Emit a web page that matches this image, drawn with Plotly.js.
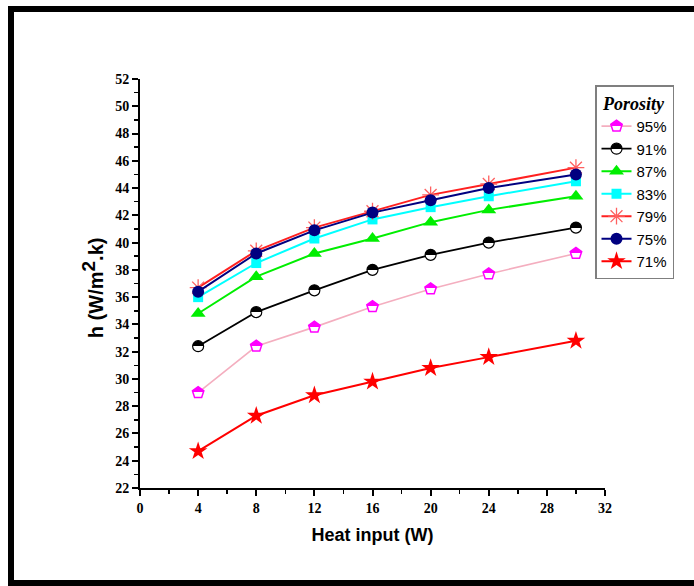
<!DOCTYPE html>
<html>
<head>
<meta charset="utf-8">
<script src="https://cdn.plot.ly/plotly-3.0.1.min.js"></script>
<style>
  html, body { margin: 0; padding: 0; background: #ffffff; overflow: hidden; }
  #frame {
    position: absolute; left: 8px; top: 6px;
    width: 700px; height: 568px;
    border: 6px solid #000000; box-sizing: content-box;
  }
  #chart { position: absolute; left: 0; top: 0; width: 694px; height: 586px; }
</style>
</head>
<body>
<div id="frame"></div>
<div id="chart"></div>
<script>
// Heat transfer coefficient vs. heat input for several wick porosities
var heatInput = [4, 8, 12, 16, 20, 24, 30];

var porosityLabels = ['95%', '91%', '87%', '83%', '79%', '75%', '71%'];

var h95 = [29.0, 32.4, 33.8, 35.3, 36.6, 37.7, 39.2];
var h91 = [32.4, 34.9, 36.5, 38.0, 39.1, 40.0, 41.1];
var h87 = [34.8, 37.5, 39.2, 40.3, 41.5, 42.4, 43.4];
var h83 = [36.0, 38.5, 40.3, 41.7, 42.6, 43.4, 44.5];
var h79 = [36.7, 39.4, 41.1, 42.3, 43.5, 44.3, 45.5];
var h75 = [36.4, 39.2, 40.9, 42.2, 43.1, 44.0, 45.0];
var h71 = [24.7, 27.3, 28.8, 29.8, 30.8, 31.6, 32.8];

var xTickVals = [0, 4, 8, 12, 16, 20, 24, 28, 32];
var yTickVals = [22, 24, 26, 28, 30, 32, 34, 36, 38, 40, 42, 44, 46, 48, 50, 52];

function series(name, y, lineStyle, marker) {
  return {
    type: 'scatter', mode: 'lines+markers',
    name: name, x: heatInput, y: y,
    line: lineStyle, marker: marker,
    cliponaxis: false
  };
}

var data = [
  series(porosityLabels[0], h95, {color: '#f4aebf', width: 1.6},
    {symbol: 'pentagon', size: 12, color: '#ff00ff',
     gradient: {type: 'vertical', color: '#ffffff'},
     line: {color: '#ff00ff', width: 1.5}}),
  series(porosityLabels[1], h91, {color: '#000000', width: 1.8},
    {symbol: 'circle', size: 11, color: '#000000',
     gradient: {type: 'vertical', color: '#ffffff'},
     line: {color: '#000000', width: 1.2}}),
  series(porosityLabels[2], h87, {color: '#00ee00', width: 2},
    {symbol: 'triangle-up', size: 13, color: '#00ee00', line: {width: 0}}),
  series(porosityLabels[3], h83, {color: '#00ffff', width: 2},
    {symbol: 'square', size: 10, color: '#00ffff', line: {width: 0}}),
  series(porosityLabels[4], h79, {color: '#ff2020', width: 2},
    {symbol: 'asterisk-open', size: 14, color: '#ff6060',
     line: {color: '#ff6060', width: 1.3}}),
  series(porosityLabels[5], h75, {color: '#000080', width: 2},
    {symbol: 'circle', size: 12, color: '#000080', line: {width: 0}}),
  series(porosityLabels[6], h71, {color: '#ff0000', width: 2},
    {symbol: 'star', size: 14, color: '#ff0000', line: {width: 0}})
];

var tickFont = {family: 'Liberation Serif, Times New Roman, serif', size: 14, color: '#000000', weight: 700};
var xTitleFont = {family: 'Liberation Sans, Arial, sans-serif', size: 18, color: '#000000', weight: 700};
var yTitleFont = {family: 'Liberation Sans, Arial, sans-serif', size: 20, color: '#000000', weight: 700};

var layout = {
  width: 694, height: 586,
  margin: {l: 139.5, r: 89, t: 79, b: 98, pad: 0},
  paper_bgcolor: 'rgba(0,0,0,0)',
  plot_bgcolor: 'rgba(0,0,0,0)',
  showlegend: true,
  xaxis: {
    range: [0, 32], tickmode: 'array', tickvals: xTickVals,
    showgrid: false, zeroline: false,
    showline: true, linecolor: '#000000', linewidth: 2,
    ticks: 'outside', ticklen: 6, tickwidth: 2, tickcolor: '#000000',
    minor: {dtick: 2, ticks: 'outside', ticklen: 4, tickwidth: 1.5, tickcolor: '#000000', showgrid: false},
    tickfont: tickFont,
    title: {text: 'Heat input (W)', font: xTitleFont, standoff: 14}
  },
  yaxis: {
    range: [22, 52], tickmode: 'array', tickvals: yTickVals,
    showgrid: false, zeroline: false,
    showline: true, linecolor: '#000000', linewidth: 2,
    ticks: 'outside', ticklen: 6, tickwidth: 2, tickcolor: '#000000',
    minor: {dtick: 1, ticks: 'outside', ticklen: 4, tickwidth: 1.5, tickcolor: '#000000', showgrid: false},
    tickfont: tickFont
  },
  // y-axis title placed as a rotated annotation beside the tick labels
  annotations: [{
    xref: 'paper', yref: 'paper', x: -0.102, y: 0.49,
    xanchor: 'center', yanchor: 'middle', textangle: -90, showarrow: false,
    text: 'h (W/m<sup><span style="font-size:19px">2</span></sup>.k)',
    font: yTitleFont
  }],
  legend: {
    x: 0.9785, y: 0.9853, xanchor: 'left', yanchor: 'top',
    bgcolor: '#ffffff', bordercolor: '#7f7f7f', borderwidth: 1.5,
    font: {family: 'Liberation Sans, Arial, sans-serif', size: 15, color: '#000000'},
    title: {text: 'Porosity', side: 'top center',
            font: {family: 'Liberation Serif, Times New Roman, serif', size: 18, color: '#000000',
                   weight: 700, style: 'italic'}},
    traceorder: 'normal',
    itemwidth: 30
  }
};

// Turn the two-stop vertical marker gradients into a crisp half/half fill
function splitGradients(gd) {
  var grads = gd.querySelectorAll('linearGradient');
  grads.forEach(function (g) {
    var stops = g.querySelectorAll('stop');
    if (stops.length !== 2) return;
    var a = stops[0], b = stops[1];
    var midA = a.cloneNode(true);
    var midB = b.cloneNode(true);
    midA.setAttribute('offset', '50%');
    midB.setAttribute('offset', '50%');
    g.insertBefore(midA, b);
    g.insertBefore(midB, b);
  });
}

var gd = document.getElementById('chart');
Plotly.newPlot(gd, data, layout, {displayModeBar: false, staticPlot: true}).then(function () {
  splitGradients(gd);
});
</script>
</body>
</html>
